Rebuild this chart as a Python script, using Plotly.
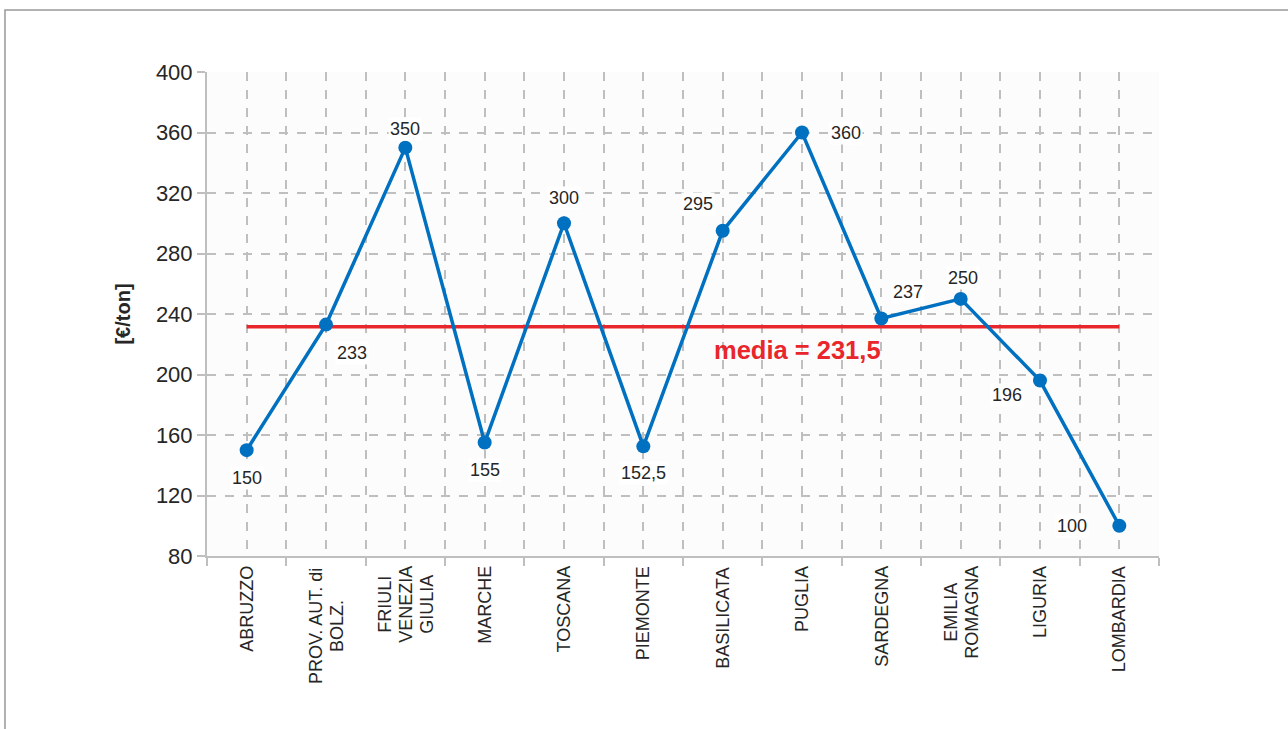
import plotly.graph_objects as go

# Regional values in €/ton
regioni = ["ABRUZZO", "PROV. AUT. di<br>BOLZ.", "FRIULI<br>VENEZIA<br>GIULIA", "MARCHE",
           "TOSCANA", "PIEMONTE", "BASILICATA", "PUGLIA", "SARDEGNA",
           "EMILIA<br>ROMAGNA", "LIGURIA", "LOMBARDIA"]
valori = [150, 233, 350, 155, 300, 152.5, 295, 360, 237, 250, 196, 100]
media = 231.5
y_ticks = [80, 120, 160, 200, 240, 280, 320, 360, 400]

# pixel offsets for each value label (dx, dy; dy positive = upward)
label_offsets = [(0, -28), (26, -28), (0, 19), (0, -27), (0, 25), (0, -27),
                 (-25, 27), (44, 0), (27, 27), (2, 21), (-33, -14), (-47, 0)]

GRID = "#BFBFBF"
TEXT = "#262626"
FONT = "Liberation Sans, Arial, sans-serif"
CAT_SIZE = 18
LINE_STEP = 21  # spacing between stacked lines of a rotated label

# Arial/Liberation Sans advance widths (1/1000 em) for the label characters
ARIAL_W = {"A": 667, "B": 667, "C": 722, "D": 722, "E": 667, "F": 611, "G": 778,
           "H": 722, "I": 278, "J": 500, "K": 667, "L": 556, "M": 833, "N": 722,
           "O": 778, "P": 667, "Q": 778, "R": 722, "S": 667, "T": 611, "U": 722,
           "V": 667, "W": 944, "X": 667, "Y": 667, "Z": 611, " ": 278, ".": 278,
           "d": 556, "i": 222}


def text_width(s, size):
    return sum(ARIAL_W.get(c, 600) for c in s) / 1000 * size


x_idx = list(range(len(regioni)))

fig = go.Figure()

# average line
fig.add_trace(go.Scatter(
    x=[x_idx[0], x_idx[-1]], y=[media, media], mode="lines",
    line=dict(color="#E8262B", width=3.5), hoverinfo="skip", showlegend=False))

# regional series
fig.add_trace(go.Scatter(
    x=x_idx, y=valori, mode="lines+markers",
    line=dict(color="#0070C0", width=3.5),
    marker=dict(color="#0070C0", size=14),
    showlegend=False))


def fmt(v):
    s = f"{v:g}"
    return s.replace(".", ",")


for i, v in enumerate(valori):
    dx, dy = label_offsets[i]
    fig.add_annotation(x=i, y=v, text=fmt(v), showarrow=False,
                       xshift=dx, yshift=dy, bgcolor="white",
                       borderpad=1,
                       font=dict(family=FONT, size=18, color=TEXT))

fig.add_annotation(x=6.94, y=media, yshift=-23, text="<b>media = " + fmt(media) + "</b>",
                   showarrow=False, font=dict(family=FONT, size=25.5, color="#E8262B"))

# category labels: rotated, each line centred on the longest one
for i, name in enumerate(regioni):
    lines = name.split("<br>")
    block = max(text_width(s, CAT_SIZE) for s in lines)
    n = len(lines)
    for k, s in enumerate(lines):
        fig.add_annotation(x=i, xref="x", y=0, yref="paper",
                           xshift=(k - (n - 1) / 2) * LINE_STEP,
                           yshift=-10 - block / 2,
                           text=s, textangle=-90, showarrow=False,
                           xanchor="center", yanchor="middle",
                           font=dict(family=FONT, size=CAT_SIZE, color=TEXT))

# outer frame
fig.add_shape(type="rect", xref="paper", yref="paper",
              x0=-0.2122, x1=1.145, y0=-0.40, y1=1.128,
              line=dict(color="#999999", width=1.5), layer="below")

fig.update_xaxes(
    range=[-0.5, len(regioni) - 0.5],
    tickmode="array", tickvals=x_idx, showticklabels=False, ticks="",
    showgrid=True, gridcolor=GRID, griddash="dash", gridwidth=1.5,
    showline=True, linecolor=GRID, linewidth=2,
    zeroline=False,
    minor=dict(tickvals=[i - 0.5 for i in range(len(regioni) + 1)],
               showgrid=True, gridcolor=GRID, griddash="dash", gridwidth=1.5,
               ticks="outside", ticklen=8, tickcolor=GRID, tickwidth=1.5),
)
fig.update_yaxes(
    range=[80, 400], tickmode="array", tickvals=y_ticks,
    ticks="outside", ticklen=8, tickcolor=GRID, tickwidth=1.5,
    tickfont=dict(family=FONT, size=22, color=TEXT),
    showgrid=True, gridcolor=GRID, griddash="dash", gridwidth=1.5,
    showline=True, linecolor=GRID, linewidth=2, zeroline=False,
    title=dict(text="<b>[€/ton]</b>", font=dict(family=FONT, size=20, color=TEXT),
               standoff=20),
)

fig.update_layout(
    width=1288, height=729,
    margin=dict(l=207, r=129, t=72, b=173),
    paper_bgcolor="white", plot_bgcolor="#FCFCFC",
    showlegend=False,
)

fig.write_html("out.html")
